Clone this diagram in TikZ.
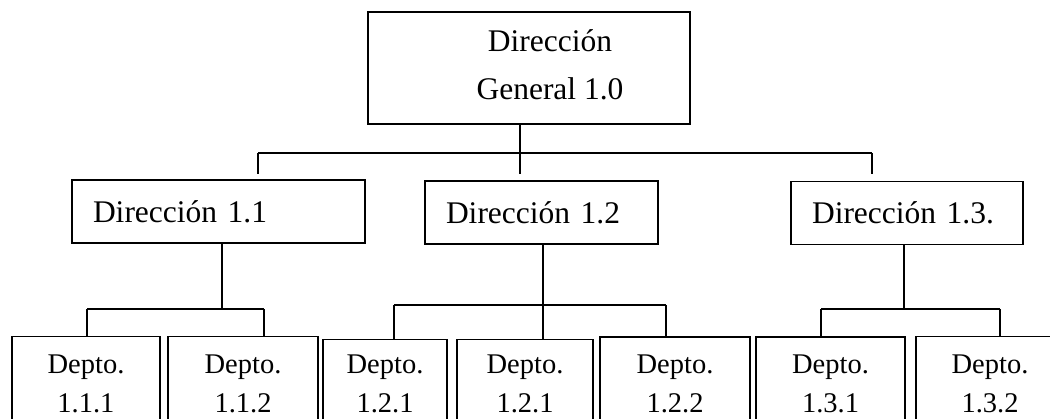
\documentclass[tikz,border=0pt]{standalone}
\usepackage{fontspec}
\setmainfont{Liberation Serif}
\begin{document}
\begin{tikzpicture}[x=1pt,y=-1pt,line width=1.3pt,
  caja/.style={draw,rectangle,line width=1.1pt},
  direccion/.style={caja,font=\fontsize{31.5}{48}\selectfont,inner xsep=21pt,align=left,minimum height=63pt},
  depto/.style={caja,font=\fontsize{28.5}{39}\selectfont,align=center,anchor=north,inner ysep=0pt,text height=76pt,text depth=30pt}]
  \useasboundingbox (0,0) rectangle (1050,419);
  \clip (0,0) rectangle (1050,419);

  % Nodes
  \node[caja,minimum width=322pt,minimum height=112pt] (dg) at (529,68) {};
  \node[font=\fontsize{31.5}{48}\selectfont,align=center,inner sep=0pt] (dgtxt) at (550,65) {Dirección\\General 1.0};

  \node[direccion,text width=251pt] (d11) at (218.5,211.5) {Dirección 1.1};
  \node[direccion,text width=191pt] (d12) at (541.5,212.5) {Dirección 1.2};
  \node[direccion,text width=190pt] (d13) at (907,213) {Dirección 1.3.};

  \node[depto,minimum width=148pt] (p111) at (86,336) {Depto.\\1.1.1};
  \node[depto,minimum width=150pt] (p112) at (243,336) {Depto.\\1.1.2};
  \node[depto,minimum width=124pt,text height=73pt] (p121a) at (385,339) {Depto.\\1.2.1};
  \node[depto,minimum width=136pt,text height=73pt] (p121b) at (525,339) {Depto.\\1.2.1};
  \node[depto,minimum width=150pt,text height=75.5pt] (p122) at (675,336.5) {Depto.\\1.2.2};
  \node[depto,minimum width=149pt,text height=75.5pt] (p131) at (830.5,336.5) {Depto.\\1.3.1};
  \node[depto,minimum width=148pt] (p132) at (990,336) {Depto.\\1.3.2};

  % Branch points
  \coordinate (t0) at (520,153);
  \coordinate (t1) at (258,153);
  \coordinate (t3) at (872,153);
  \coordinate (u1) at (222,309);
  \coordinate (u1a) at (87,309);
  \coordinate (u1b) at (264,309);
  \coordinate (u2) at (543,305);
  \coordinate (u2a) at (394,305);
  \coordinate (u2b) at (666,305);
  \coordinate (u3) at (904,309);
  \coordinate (u3a) at (821,309);
  \coordinate (u3b) at (1000,309);

  % Lines from the top
  \draw[shorten >=6pt] (dg.south -| t0) -- (t0 |- d12.north);
  \draw (t1) -- (t3);
  \draw[shorten >=5pt] (t1) -- (t1 |- d11.north);
  \draw[shorten >=7pt] (t3) -- (t3 |- d13.north);

  % Lines going to departments
  \draw (d11.south -| u1) -- (u1);
  \draw (u1a) -- (u1b);
  \draw (u1a) -- (u1a |- p111.north);
  \draw (u1b) -- (u1b |- p112.north);

  \draw (d12.south -| u2) -- (u2 |- p121b.north);
  \draw (u2a) -- (u2b);
  \draw (u2a) -- (u2a |- p121a.north);
  \draw (u2b) -- (u2b |- p122.north);

  \draw (d13.south -| u3) -- (u3);
  \draw (u3a) -- (u3b);
  \draw (u3a) -- (u3a |- p131.north);
  \draw (u3b) -- (u3b |- p132.north);

\end{tikzpicture}
\end{document}
